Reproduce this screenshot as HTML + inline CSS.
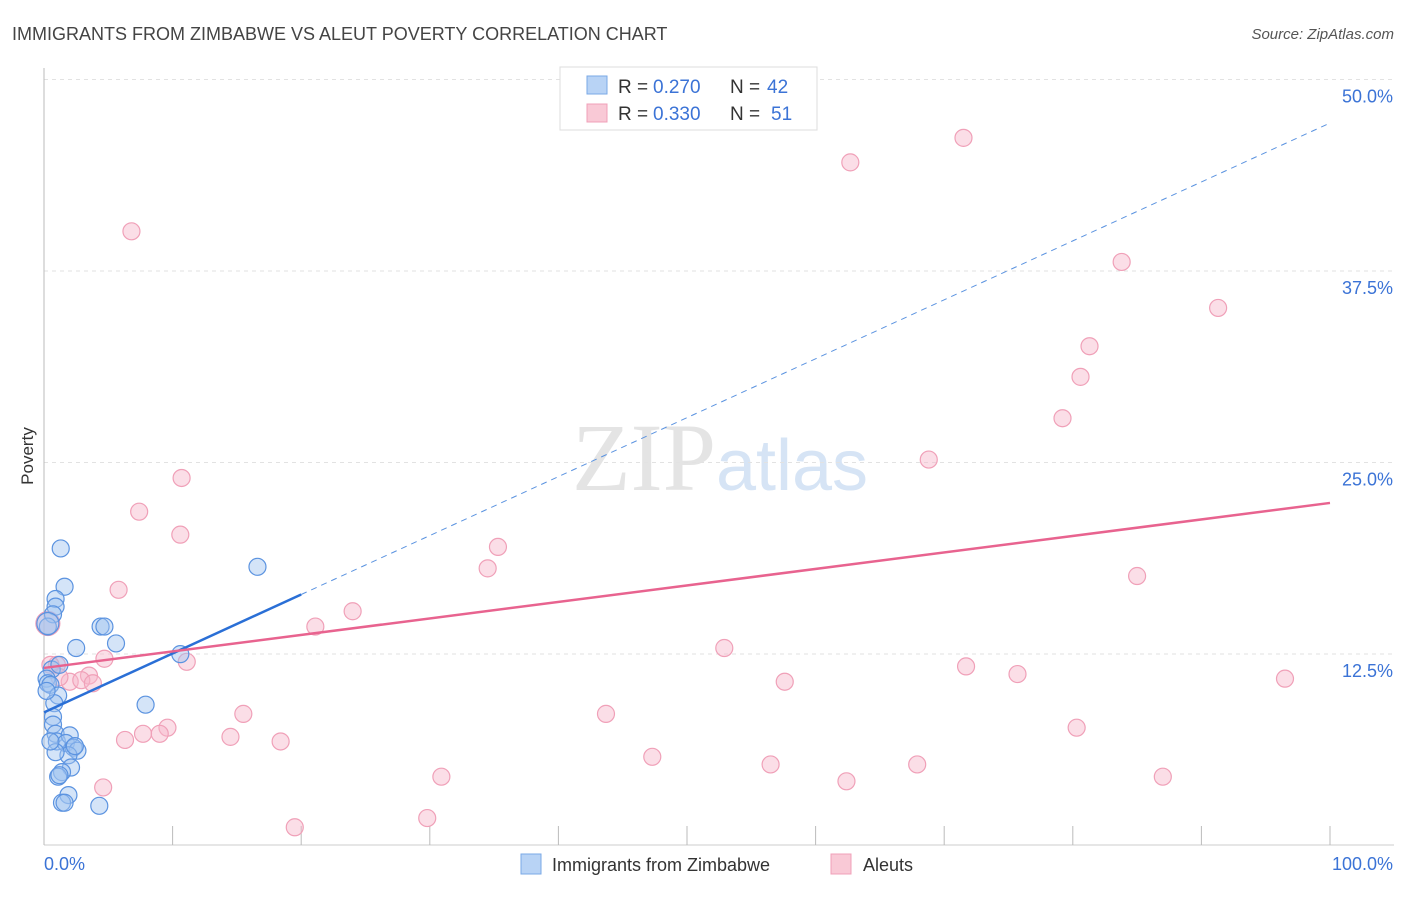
<!DOCTYPE html>
<html><head><meta charset="utf-8"><style>
body{margin:0;background:#fff;font-family:"Liberation Sans",sans-serif;}
svg text{font-family:"Liberation Sans",sans-serif;}
</style></head><body>
<svg id="chart" width="1406" height="892" xmlns="http://www.w3.org/2000/svg">
<text x="12" y="40" font-size="18" fill="#444">IMMIGRANTS FROM ZIMBABWE VS ALEUT POVERTY CORRELATION CHART</text>
<text x="1394" y="39" font-size="15" fill="#555" text-anchor="end" font-style="italic">Source: ZipAtlas.com</text>
<text x="720" y="490" font-size="96" text-anchor="middle"><tspan fill="#e4e4e4" font-family="Liberation Serif">ZIP</tspan><tspan fill="#d6e4f5" font-size="72">atlas</tspan></text>
<g id="grid"></g>
<g id="axes"></g>
<g id="marks"></g>
<text transform="translate(33,456) rotate(-90)" font-size="17" fill="#333" text-anchor="middle">Poverty</text>
<g>
<rect x="560" y="67" width="257" height="63" fill="#fff" stroke="#ddd"/>
<rect x="587" y="76" width="20" height="18" fill="#b8d3f5" stroke="#7aa8e6"/>
<text x="618" y="93" font-size="19" fill="#333">R = </text>
<text x="653" y="93" font-size="19" fill="#3b73d6">0.270</text>
<text x="730" y="93" font-size="19" fill="#333">N = </text>
<text x="767" y="93" font-size="19" fill="#3b73d6">42</text>
<rect x="587" y="104" width="20" height="18" fill="#f9c9d6" stroke="#f0a0b8"/>
<text x="618" y="120" font-size="19" fill="#333">R = </text>
<text x="653" y="120" font-size="19" fill="#3b73d6">0.330</text>
<text x="730" y="120" font-size="19" fill="#333">N = </text>
<text x="771" y="120" font-size="19" fill="#3b73d6">51</text>
</g>
<g>
<rect x="521" y="854" width="20" height="20" fill="#b8d3f5" stroke="#7aa8e6"/>
<text x="552" y="871" font-size="18" fill="#333">Immigrants from Zimbabwe</text>
<rect x="831" y="854" width="20" height="20" fill="#f9c9d6" stroke="#f0a0b8"/>
<text x="863" y="871" font-size="18" fill="#333">Aleuts</text>
</g>
</svg>
<script>
const yTicks=[12.5,25,37.5,50];
const yTickLabels=["12.5%","25.0%","37.5%","50.0%"];
const xTicks=[0,10,20,30,40,50,60,70,80,90,100];
const xTickLabels=["0.0%","100.0%"];
const blueX=[1.3,1.6,0.9,0.9,0.7,0.3,4.4,4.7,5.6,2.5,0.6,1.2,0.2,0.3,0.5,1.1,0.8,0.7,0.7,0.9,1.0,2.0,1.7,2.3,2.6,1.9,0.9,2.1,1.4,1.1,1.2,1.9,1.4,1.6,4.3,7.9,10.6,16.6,0.3,0.2,0.5,2.4];
const blueY=[20.5,18.0,17.2,16.7,16.2,15.4,15.4,15.4,14.3,14.0,12.6,12.9,12.0,11.7,11.6,10.9,10.4,9.5,9.0,8.4,7.9,8.3,7.8,7.5,7.3,7.0,7.2,6.2,5.9,5.6,5.7,4.4,3.9,3.9,3.7,10.3,13.6,19.3,15.6,11.2,7.9,7.6];
const pinkX=[6.8,7.4,10.7,10.6,5.8,4.7,11.1,1.0,3.5,2.0,2.9,3.8,1.2,9.6,7.7,9.0,6.3,14.5,15.5,18.4,4.6,19.5,21.1,24.0,30.9,29.8,34.5,35.3,43.7,47.3,52.9,57.6,56.5,62.4,62.7,71.5,68.8,71.7,67.9,75.7,79.2,80.6,81.3,80.3,83.8,85.0,87.0,91.3,96.5,0.3,0.5];
const pinkY=[41.2,22.9,25.1,21.4,17.8,13.3,13.1,12.9,12.2,11.8,11.9,11.7,12.1,8.8,8.4,8.4,8.0,8.2,9.7,7.9,4.9,2.3,15.4,16.4,5.6,2.9,19.2,20.6,9.7,6.9,14.0,11.8,6.4,5.3,45.7,47.3,26.3,12.8,6.4,12.3,29.0,31.7,33.7,8.8,39.2,18.7,5.6,36.2,12.0,15.6,12.9];
const blueLine=[9.8,48.27], blueSolidEnd=20;
const pinkLine=[12.70,23.47];
const X=v=>44+v*12.86, Y=v=>862.5-v*15.32;
const NS="http://www.w3.org/2000/svg";
function mk(p,t,a){const e=document.createElementNS(NS,t);for(const k in a)e.setAttribute(k,a[k]);p.appendChild(e);return e;}
const grid=document.getElementById('grid'),axes=document.getElementById('axes'),marks=document.getElementById('marks');
yTicks.forEach((t,i)=>{
 const l=mk(grid,'line',{x1:44,x2:1394,y1:Y(t)-17,y2:Y(t)-17,stroke:'#e2e2e2','stroke-dasharray':'4,4'});
 
 
 const tx=mk(axes,'text',{x:1393,y:Y(t)+6,'font-size':18,fill:'#3b73d6','text-anchor':'end'});
 tx.textContent=yTickLabels[i];
 
 
});
mk(axes,'line',{x1:44,x2:44,y1:68,y2:845,stroke:'#bbb'});
mk(axes,'line',{x1:44,x2:1394,y1:845,y2:845,stroke:'#ccc'});
xTicks.forEach(t=>{const l=mk(axes,'line',{x1:X(t),x2:X(t),y1:826,y2:845,stroke:'#bbb'});
 
 });
let a=mk(axes,'text',{x:44,y:870,'font-size':18,fill:'#3b73d6'});a.textContent=xTickLabels[0];


a=mk(axes,'text',{x:1393,y:870,'font-size':18,fill:'#3b73d6','text-anchor':'end'});a.textContent=xTickLabels[1];


pinkX.forEach((x,i)=>{const c=mk(marks,'circle',{cx:X(x),cy:Y(pinkY[i]),r:i==49?12:8.5,fill:'rgba(247,182,202,0.45)',stroke:'#f0a0b8','stroke-width':1.2});
 
 });
blueX.forEach((x,i)=>{const c=mk(marks,'circle',{cx:X(x),cy:Y(blueY[i]),r:i==38?11:8.5,fill:'rgba(160,196,240,0.45)',stroke:'#5b93e0','stroke-width':1.2});
 
 });
const by=x=>blueLine[0]+(blueLine[1]-blueLine[0])*x/100;
let l=mk(marks,'line',{x1:X(blueSolidEnd),y1:Y(by(blueSolidEnd)),x2:X(100),y2:Y(by(100)),stroke:'#5b93e0','stroke-width':1,'stroke-dasharray':'6,5'});


l=mk(marks,'line',{x1:X(0),y1:Y(by(0)),x2:X(blueSolidEnd),y2:Y(by(blueSolidEnd)),stroke:'#2a6fd6','stroke-width':2.5});


l=mk(marks,'line',{x1:X(0),y1:Y(pinkLine[0]),x2:X(100),y2:Y(pinkLine[1]),stroke:'#e8638f','stroke-width':2.5});


</script>
</body></html>
